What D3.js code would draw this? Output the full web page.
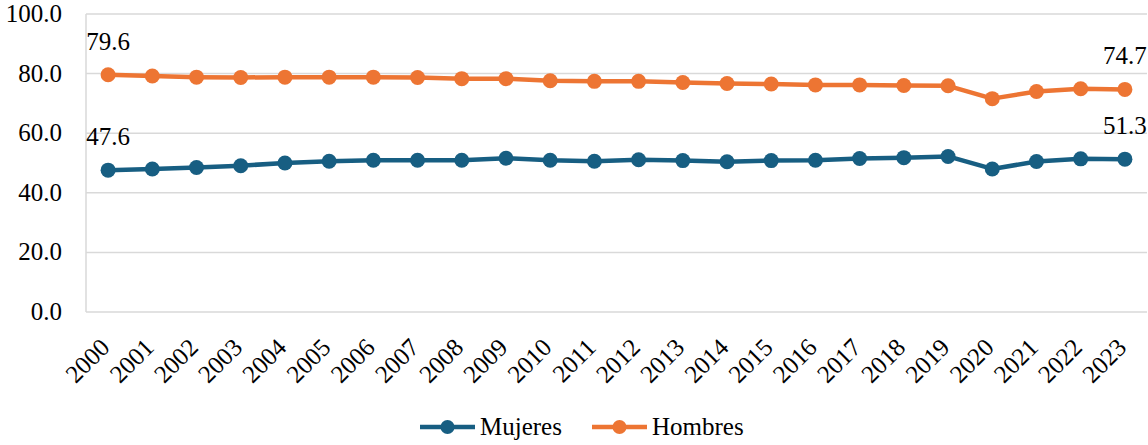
<!DOCTYPE html>
<html>
<head>
<meta charset="utf-8">
<script src="https://cdn.jsdelivr.net/npm/d3@7"></script>
</head>
<body style="margin:0; background:#fff">
<div id="chart"></div>
<script>
const years = ["2000", "2001", "2002", "2003", "2004", "2005", "2006", "2007", "2008", "2009", "2010", "2011",
  "2012", "2013", "2014", "2015", "2016", "2017", "2018", "2019", "2020", "2021", "2022", "2023"];
const mujeres = [47.6, 48.0, 48.5, 49.1, 50.0, 50.6, 50.9, 50.9, 50.9, 51.6, 50.9, 50.6,
  51.1, 50.8, 50.4, 50.8, 50.9, 51.5, 51.8, 52.2, 48.0, 50.5, 51.4, 51.3];
const hombres = [79.6, 79.2, 78.8, 78.7, 78.8, 78.8, 78.8, 78.7, 78.3, 78.3, 77.6, 77.4,
  77.4, 77.0, 76.7, 76.5, 76.2, 76.2, 76.0, 75.9, 71.6, 74.0, 74.9, 74.7];
const yTicks = [0, 20, 40, 60, 80, 100];

const series = [
  { name: "Mujeres", values: mujeres, color: "#175e82" },
  { name: "Hombres", values: hombres, color: "#ed7533" }
];

const W = 1148, H = 445;
const margin = { top: 14, right: 1, bottom: 133, left: 86 };
const FONT = "'Liberation Serif', 'Times New Roman', serif";

const svg = d3.select("#chart").append("svg")
  .attr("width", W)
  .attr("height", H);

const x = d3.scaleBand()
  .domain(years)
  .range([margin.left, W - margin.right]);

const y = d3.scaleLinear()
  .domain([0, 100])
  .range([H - margin.bottom, margin.top]);

const cx = d => x(d) + x.bandwidth() / 2;

// gridlines
svg.append("g")
  .selectAll("line")
  .data(yTicks)
  .enter()
  .append("line")
  .attr("x1", margin.left)
  .attr("x2", W - margin.right)
  .attr("y1", d => y(d))
  .attr("y2", d => y(d))
  .attr("stroke", "#d9d9d9")
  .attr("stroke-width", 1.5);

svg.append("line")
  .attr("x1", margin.left)
  .attr("x2", margin.left)
  .attr("y1", y(100))
  .attr("y2", y(0))
  .attr("stroke", "#d9d9d9")
  .attr("stroke-width", 1.5);

// y labels
svg.append("g")
  .selectAll("text")
  .data(yTicks)
  .enter()
  .append("text")
  .attr("x", 62)
  .attr("y", d => y(d) + 8)
  .attr("text-anchor", "end")
  .style("font-family", FONT)
  .style("font-size", "25px")
  .text(d => d.toFixed(1));

// x labels
svg.append("g")
  .selectAll("text")
  .data(years)
  .enter()
  .append("text")
  .attr("text-anchor", "end")
  .style("font-family", FONT)
  .style("font-size", "25px")
  .attr("transform", d => "translate(" + (cx(d) + 3) + "," + (y(0) + 37) + ") rotate(-45)")
  .text(d => d);

const line = d3.line()
  .x((d, i) => cx(years[i]))
  .y(d => y(d));

series.forEach(s => {
  svg.append("path")
    .datum(s.values)
    .attr("fill", "none")
    .attr("stroke", s.color)
    .attr("stroke-width", 4.5)
    .attr("stroke-linejoin", "round")
    .attr("d", line);

  svg.append("g")
    .selectAll("circle")
    .data(s.values)
    .enter()
    .append("circle")
    .attr("cx", (d, i) => cx(years[i]))
    .attr("cy", d => y(d))
    .attr("r", 7.5)
    .attr("fill", s.color);

  // first and last value labels
  const last = s.values.length - 1;
  [0, last].forEach(i => {
    svg.append("text")
      .attr("x", cx(years[i]))
      .attr("y", y(s.values[i]) - 25)
      .attr("text-anchor", "middle")
      .style("font-family", FONT)
      .style("font-size", "25px")
      .text(s.values[i].toFixed(1));
  });
});

// legend
const legendX = [420, 592];
series.forEach((s, i) => {
  const g = svg.append("g").attr("transform", "translate(" + legendX[i] + ",427)");
  g.append("line")
    .attr("x1", 0).attr("x2", 55)
    .attr("y1", 0).attr("y2", 0)
    .attr("stroke", s.color)
    .attr("stroke-width", 4.5);
  g.append("circle")
    .attr("cx", 27.5).attr("cy", 0)
    .attr("r", 7)
    .attr("fill", s.color);
  g.append("text")
    .attr("x", 60)
    .attr("y", 8)
    .style("font-family", FONT)
    .style("font-size", "25px")
    .text(s.name);
});
</script>
</body>
</html>
